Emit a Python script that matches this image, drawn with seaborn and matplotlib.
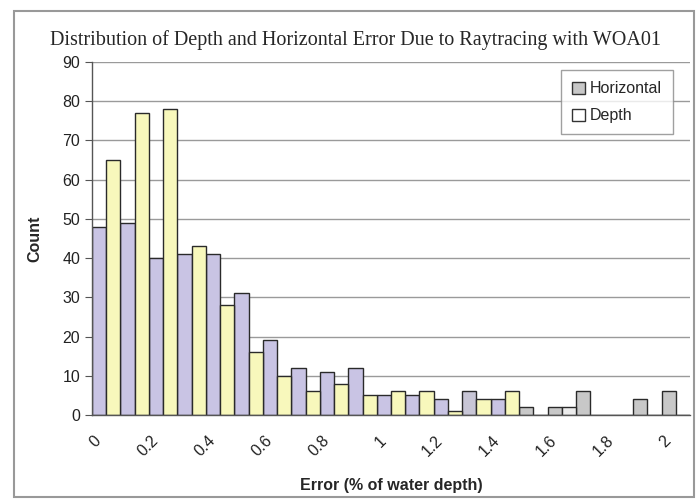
import matplotlib
matplotlib.use("Agg")
import matplotlib.pyplot as plt
import seaborn as sns
import pandas as pd
from matplotlib.patches import Patch, Rectangle

categories = ["0", "0.1", "0.2", "0.3", "0.4", "0.5", "0.6", "0.7", "0.8", "0.9", "1",
              "1.1", "1.2", "1.3", "1.4", "1.5", "1.6", "1.7", "1.8", "1.9", "2"]
horizontal = [48, 49, 40, 41, 41, 31, 19, 12, 11, 12, 5, 5, 4, 6, 4, 2, 2, 6, 0, 4, 6]
depth = [65, 77, 78, 43, 28, 16, 10, 6, 8, 5, 6, 6, 1, 4, 6, 0, 2, 0, 0, 0, 0]
tick_labels = ["0", "0.2", "0.4", "0.6", "0.8", "1", "1.2", "1.4", "1.6", "1.8", "2"]
series_names = ["Horizontal", "Depth"]

df = pd.DataFrame({
    "cat": categories * 2,
    "count": horizontal + depth,
    "series": [series_names[0]] * len(categories) + [series_names[1]] * len(categories),
})

sns.set_style("white")
plt.rcParams["font.family"] = ["Liberation Sans", "DejaVu Sans"]

fig = plt.figure(figsize=(6.97, 5.01), dpi=100)
ax = fig.add_axes([92 / 697, 1 - 415 / 501, (690 - 92) / 697, (415 - 62) / 501])

sns.barplot(data=df, x="cat", y="count", hue="series", order=categories,
            hue_order=series_names, width=1.0, gap=0, dodge=True,
            palette=["#c9c4e4", "#f8f8bc"], edgecolor="#2a2a2a", linewidth=1.0,
            legend=False, ax=ax)

# scanned colours: later bars appear grey / white
h_cols = ["#c9c4e4"] * 13 + ["#c8c6d6"] + ["#c9c4e4"] + ["#c8c8c8"] * 6
d_cols = ["#f8f8bc"] * 15 + ["#ececec"] * 6
for patch, c in zip(ax.containers[0].patches, h_cols):
    patch.set_facecolor(c)
for patch, c in zip(ax.containers[1].patches, d_cols):
    patch.set_facecolor(c)

ax.set_xlim(-0.5, len(categories) - 0.5)
ax.set_ylim(0, 90)
ax.set_yticks(range(0, 91, 10))
ax.yaxis.grid(True, color="#9a9a9a", linewidth=1.0)
ax.set_axisbelow(True)

# tick marks at category boundaries, labels every other category
ax.set_xticks([k - 0.5 for k in range(len(categories) + 1)], minor=True)
ax.set_xticks([k - 0.45 for k in range(0, len(categories), 2)])
ax.set_xticklabels(tick_labels, rotation=45, ha="right", va="top",
                   rotation_mode="anchor", fontsize=11.5, color="#222222")
ax.tick_params(axis="x", which="major", length=0, pad=13)
ax.tick_params(axis="x", which="minor", length=4, color="#555555", width=0.8, direction="out")
ax.tick_params(axis="y", length=5, color="#555555", width=0.8, direction="out",
               labelsize=11.5, labelcolor="#222222", left=True)

for s in ["top", "right"]:
    ax.spines[s].set_visible(False)
for s in ["left", "bottom"]:
    ax.spines[s].set_color("#555555")
    ax.spines[s].set_linewidth(1.0)

ax.set_xlabel("Error (% of water depth)", fontsize=11.5, fontweight="bold", labelpad=13)
ax.set_ylabel("Count", fontsize=11.5, fontweight="bold", labelpad=14)

fig.text(356 / 697, 1 - 40 / 501, "Distribution of Depth and Horizontal Error Due to Raytracing with WOA01",
         ha="center", va="center", fontsize=14.5, family=["Liberation Serif", "DejaVu Serif"])

handles = [Patch(facecolor="#c8c8c8", edgecolor="#333333", label="Horizontal"),
           Patch(facecolor="#ffffff", edgecolor="#333333", label="Depth")]
leg = ax.legend(handles=handles, loc="upper right", bbox_to_anchor=(673 / 697, 1 - 70 / 501),
                bbox_transform=fig.transFigure, borderaxespad=0, fontsize=11.5, frameon=True,
                fancybox=False, edgecolor="#888888", handlelength=0.8, handleheight=0.8,
                handletextpad=0.3, borderpad=0.7, labelspacing=0.75)
leg.get_frame().set_linewidth(1.0)

fig.patches.append(Rectangle((14 / 697, 4 / 501), 680 / 697, 486 / 501, transform=fig.transFigure,
                             fill=False, edgecolor="#999999", linewidth=1.5))

fig.savefig("out.png", dpi=100)
